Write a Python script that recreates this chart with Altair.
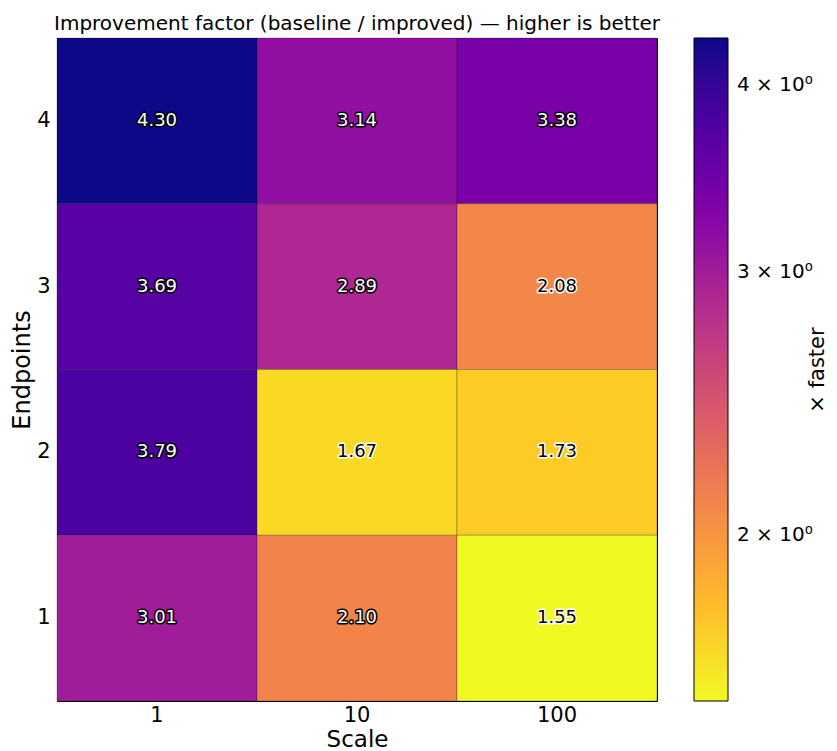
import altair as alt
import pandas as pd

scales = ["1", "10", "100"]
endpoints = ["4", "3", "2", "1"]
values = [
    [4.30, 3.14, 3.38],
    [3.69, 2.89, 2.08],
    [3.79, 1.67, 1.73],
    [3.01, 2.10, 1.55],
]
color_domain = [1.55, 4.30]
legend_ticks = [2, 3, 4]

rows = []
for e, row in zip(endpoints, values):
    for s, v in zip(scales, row):
        rows.append({"Scale": s, "Endpoints": e, "v": v, "label": f"{v:.2f}"})
df = pd.DataFrame(rows)

FONT = "DejaVu Sans"
x = alt.X("Scale:O", sort=scales, title="Scale",
          scale=alt.Scale(paddingInner=0, paddingOuter=0),
          axis=alt.Axis(labelAngle=0, ticks=False, domain=False, labelFontSize=21,
                        titleFontSize=23, labelPadding=3, titlePadding=3,
                        labelFont=FONT, titleFont=FONT, labelColor="black",
                        titleColor="black", titleFontWeight="normal"))
y = alt.Y("Endpoints:O", sort=endpoints, title="Endpoints",
          scale=alt.Scale(paddingInner=0, paddingOuter=0),
          axis=alt.Axis(ticks=False, domain=False, labelFontSize=21, labelAngle=0,
                        titleFontSize=24, labelPadding=7, titlePadding=2,
                        labelFont=FONT, titleFont=FONT, labelColor="black",
                        titleColor="black", titleFontWeight="normal"))

base = alt.Chart(df)
rect = base.mark_rect(stroke="black", strokeOpacity=0.25, strokeWidth=1).encode(
    x=x, y=y,
    color=alt.Color("v:Q",
                    scale=alt.Scale(type="log", scheme="plasma", reverse=True,
                                    domain=color_domain),
                    legend=alt.Legend(
                        title=None, orient="none", legendX=637, legendY=0,
                        direction="vertical", gradientLength=663, gradientThickness=34,
                        gradientStrokeColor="black", gradientStrokeWidth=1,
                        values=legend_ticks,
                        labelExpr="datum.value + ' × 10⁰'",
                        labelFontSize=20, labelFont=FONT, labelColor="black",
                        labelOffset=9)),
)

test = "datum.v > 2.09"
outline = base.mark_text(fontSize=18, font=FONT, strokeWidth=3, strokeJoin="round").encode(
    x=x, y=y, text="label:N",
    fill=alt.condition(test, alt.value("black"), alt.value("white")),
    stroke=alt.condition(test, alt.value("black"), alt.value("white")),
)
txt = base.mark_text(fontSize=18, font=FONT).encode(
    x=x, y=y, text="label:N",
    color=alt.condition(test, alt.value("white"), alt.value("black")),
)

cbar_title = alt.Chart(pd.DataFrame({"t": ["× faster"]})).mark_text(
    angle=270, fontSize=21, font=FONT, color="black", baseline="middle", align="center"
).encode(x=alt.value(761), y=alt.value(332), text="t:N")

chart = alt.layer(rect, outline, txt, cbar_title).properties(
    width=600, height=663,
    title=alt.TitleParams("Improvement factor (baseline / improved) — higher is better",
                          fontSize=20, font=FONT, fontWeight="normal", anchor="middle",
                          offset=4, color="black", frame="group"),
    padding={"left": 49, "top": 30, "right": 172, "bottom": 50},
    autosize=alt.AutoSizeParams(type="none"),
).configure_view(stroke="black", strokeWidth=1)

chart.save("out.html", embed_options={"renderer": "svg", "actions": False})
